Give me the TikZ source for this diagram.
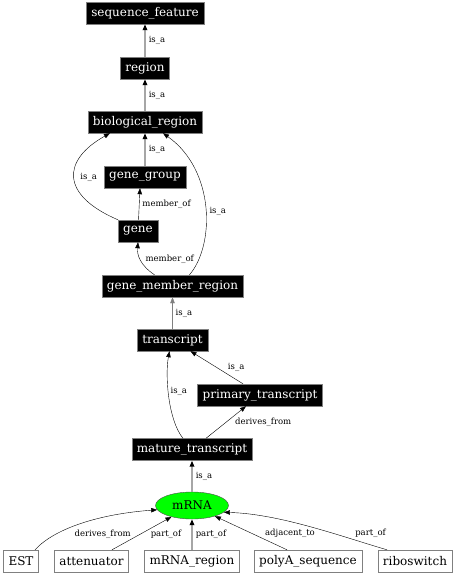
\documentclass[tikz,border=0pt]{standalone}
\usepackage{fontspec}
\setmainfont{DejaVu Serif}
\usetikzlibrary{arrows.meta, shapes.geometric}

\begin{document}
\begin{tikzpicture}[x=1pt, y=-1pt,
        term/.style={rectangle, draw=gray, fill=black, text=white, inner xsep=5pt,
                     inner ysep=0pt, minimum height=22pt, font=\fontsize{12}{14}\selectfont},
        leaf/.style={term, fill=white, text=black},
        lab/.style={inner sep=1pt, text=black, font=\fontsize{8.5}{10}\selectfont},
        arr/.style={-{Triangle[length=6pt,width=4.5pt]}, thin, black},
        garr/.style={-{Triangle[length=6pt,width=4.5pt,color=black]}, line width=1.5pt, gray!70}]
      \useasboundingbox (0,0) rectangle (456,576);
      % ontology terms
      \node[term] (seqf) at (145,13) {sequence\_feature};
      \node[term] (region) at (145,68) {region};
      \node[term] (bioreg) at (145,122) {biological\_region};
      \node[term] (ggroup) at (145,177) {gene\_group};
      \node[term] (gene) at (138,231) {gene};
      \node[term] (gmr) at (172.5,286) {gene\_member\_region};
      \node[term] (transcript) at (172.5,340) {transcript};
      \node[term] (primary) at (260,395) {primary\_transcript};
      \node[term] (mature) at (192,449.5) {mature\_transcript};
      \node[ellipse, draw=black!70, fill=green, minimum width=73pt, minimum height=27pt,
            inner sep=0pt, font=\fontsize{12}{14}\selectfont] (mrna) at (192,505.5) {mRNA};
      % children of mRNA
      \node[leaf] (est) at (21,561) {EST};
      \node[leaf] (atten) at (91.5,561) {attenuator};
      \node[leaf] (mrnareg) at (192,561) {mRNA\_region};
      \node[leaf] (polya) at (308,561) {polyA\_sequence};
      \node[leaf] (ribo) at (415,561) {riboswitch};
      % relations
      \draw[garr] (region) -- (seqf) node[lab, midway, right=2pt] {is\_a};
      \draw[garr] (bioreg) -- (region) node[lab, midway, right=2pt] {is\_a};
      \draw[garr] (ggroup) -- (bioreg) node[lab, midway, right=2pt] {is\_a};
      \draw[arr] (gene.north west) .. controls (60,195) and (62,160) .. ([xshift=-35pt]bioreg.south)
        node[lab, pos=.5, right=5pt] {is\_a};
      \draw[arr] (gene) -- ([xshift=-5pt]ggroup.south) node[lab, midway, right=2pt] {member\_of};
      \draw[arr] ([xshift=-18pt]gmr.north) .. controls (140,265) and (137,255) .. (gene.south)
        node[lab, pos=.5, right=4pt] {member\_of};
      \draw[arr] ([xshift=17pt]gmr.north) .. controls (215,245) and (215,170) .. ([xshift=18pt]bioreg.south)
        node[lab, pos=.47, right=2.5pt] {is\_a};
      \draw[arr, gray] (transcript) -- (gmr) node[lab, midway, right=2pt] {is\_a};
      \draw[arr] ([xshift=-17pt]primary.north) -- ([xshift=18pt]transcript.south)
        node[lab, midway, right=10pt] {is\_a};
      \draw[arr] ([xshift=-9pt]mature.north) .. controls (168,420) and (165,375) .. ([xshift=-3pt]transcript.south)
        node[lab, pos=.55, right=1pt] {is\_a};
      \draw[arr] ([xshift=14pt]mature.north) -- ([xshift=-14pt]primary.south)
        node[lab, midway, right=8pt] {derives\_from};
      \draw[garr] (mrna) -- (mature) node[lab, midway, right=2pt] {is\_a};
      \draw[arr] ([xshift=14pt]est.north) .. controls (55,528) and (100,514) .. (mrna.187)
        node[lab, pos=.6, anchor=north, xshift=7.5pt, yshift=-9pt] {derives\_from};
      \draw[arr] ([xshift=20.5pt]atten.north) -- (mrna) node[lab, pos=.48, right=9pt] {part\_of};
      \draw[garr] (mrnareg) -- (mrna) node[lab, midway, right=2pt] {part\_of};
      \draw[arr] ([xshift=-21pt]polya.north) -- (mrna) node[lab, pos=.5, right=13pt] {adjacent\_to};
      \draw[arr] ([xshift=-28pt]ribo.north) .. controls (340,536) and (280,514) .. (mrna.-12)
        node[lab, pos=.1, anchor=south, xshift=-2pt, yshift=7pt] {part\_of};
    \end{tikzpicture}
\end{document}
